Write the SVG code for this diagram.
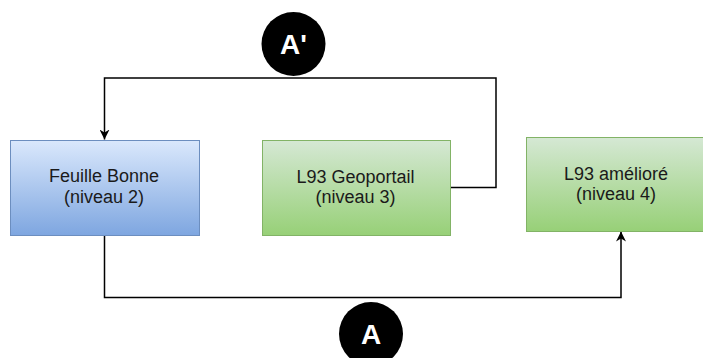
<svg xmlns="http://www.w3.org/2000/svg" width="703" height="358" viewBox="0 0 703 358">
<style>
.lbl{font-family:"Liberation Sans",Arial,sans-serif;font-size:18px;fill:#1a1a1a;text-anchor:middle}
.badge{font-family:"Liberation Sans",Arial,sans-serif;font-size:28px;font-weight:bold;fill:#fff;text-anchor:middle}
.wire{fill:none;stroke:#000;stroke-width:1.5}
</style>
<defs>
<linearGradient id="gBlue" x1="0" y1="0" x2="0" y2="1"><stop offset="0" stop-color="#dae8fc"/><stop offset="1" stop-color="#7ea6e0"/></linearGradient>
<linearGradient id="gGreen" x1="0" y1="0" x2="0" y2="1"><stop offset="0" stop-color="#d5e8d4"/><stop offset="1" stop-color="#97d077"/></linearGradient>
<marker id="arr" viewBox="0 0 10 10" refX="10" refY="5" markerWidth="10" markerHeight="10" markerUnits="userSpaceOnUse" orient="auto"><path d="M0,0 L10,5 L0,10 L3,5 Z" fill="#000"/></marker>
</defs>
<rect width="703" height="358" fill="#fff"/>
<g id="connectors">
<path class="wire" d="M450,187.5 H496 V78 H104.5 V139.5" marker-end="url(#arr)"/>
<path class="wire" d="M104.5,235 V297.5 H621 V231.5" marker-end="url(#arr)"/>
</g>
<g id="node-feuille">
<rect x="10.5" y="140.5" width="189" height="95" fill="url(#gBlue)" stroke="#6c8ebf"/>
<text class="lbl" x="104" y="182">Feuille Bonne</text>
<text class="lbl" x="104" y="203">(niveau 2)</text>
</g>
<g id="node-geoportail">
<rect x="262.5" y="140.5" width="188" height="95" fill="url(#gGreen)" stroke="#82b366"/>
<text class="lbl" x="355.5" y="182.5">L93 Geoportail</text>
<text class="lbl" x="355.5" y="203">(niveau 3)</text>
</g>
<g id="node-ameliore">
<rect x="526.5" y="137.5" width="190" height="94" fill="url(#gGreen)" stroke="#82b366"/>
<text class="lbl" x="616" y="179.5">L93 amélioré</text>
<text class="lbl" x="616" y="200">(niveau 4)</text>
</g>
<g id="badge-aprime">
<circle cx="293.5" cy="44" r="32" fill="#000"/>
<text class="badge" x="293.5" y="54">A'</text>
</g>
<g id="badge-a">
<circle cx="371" cy="334" r="32" fill="#000"/>
<text class="badge" x="371" y="344">A</text>
</g>
</svg>
